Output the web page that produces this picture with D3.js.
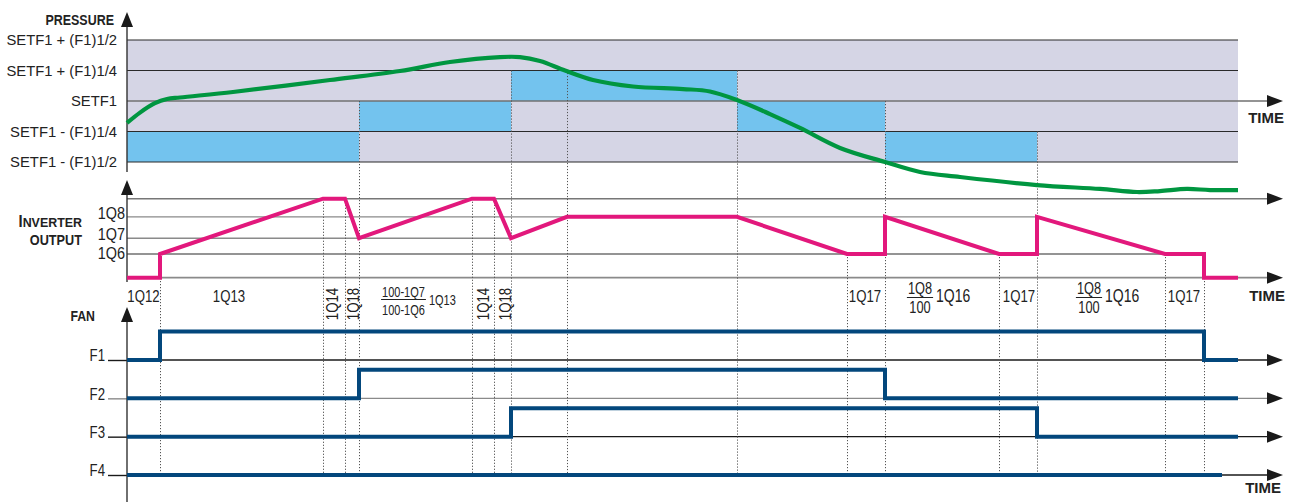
<!DOCTYPE html>
<html><head><meta charset="utf-8">
<script src="https://cdn.jsdelivr.net/npm/d3@7"></script>
<style>body{margin:0;background:#fff} svg{display:block}</style>
</head><body><svg id="c" width="1292" height="502"></svg>
<script>
// ---------------- DATA ----------------
const pressureLevels = [-0.5, -0.25, 0, 0.25, 0.5];
const pressureLabels = ["SETF1 - (F1)1/2", "SETF1 - (F1)1/4", "SETF1", "SETF1 + (F1)1/4", "SETF1 + (F1)1/2"];
const bandStart = [0, 232, 384, 610, 758];
const bandEnd   = [232, 384, 610, 758, 910];
const bandLow   = [-0.5, -0.25, 0, -0.25, -0.5];
const bandHigh  = [-0.25, 0, 0.25, 0, -0.25];
const pressureT = [0, 13, 28, 40, 53, 106, 203, 273, 323, 373, 393, 413, 438, 466, 506, 556, 583, 610, 643, 673, 713, 758, 793, 833, 910, 973, 1010, 1033, 1060, 1083, 1111];
const pressureV = [-0.18, -0.095, -0.018, 0.016, 0.029, 0.074, 0.172, 0.246, 0.32, 0.36, 0.36, 0.328, 0.25, 0.172, 0.119, 0.098, 0.078, 0.008, -0.107, -0.221, -0.385, -0.5, -0.582, -0.623, -0.689, -0.721, -0.746, -0.738, -0.721, -0.73, -0.73];

const inverterLevels = [30, 50, 77];
const inverterLabels = ["1Q6", "1Q7", "1Q8"];
const inverterT = [0, 33, 33, 196, 218, 232, 345, 367, 384, 440, 610, 720, 758, 758, 872, 910, 910, 1038, 1077, 1077, 1111];
const inverterV = [0, 0, 30, 100, 100, 50, 100, 100, 50, 77, 77, 30, 30, 77, 30, 30, 77, 30, 30, 0, 0];

const fanNames = ["F1", "F2", "F3", "F4"];
const fanOn  = [33, 232, 384, null];
const fanOff = [1077, 758, 910, null];
const fanEnd = [1111, 1111, 1111, 1095];

const markerT     = [33, 196, 218, 232, 345, 367, 384, 440, 610, 720, 758, 872, 910, 1038, 1077];
const markerPanel = ["inv","inv","inv","pres","inv","inv","pres","pres","pres","inv","pres","inv","pres","inv","inv"];
const markerV     = [30, 100, 100, 0, 100, 100, 0.25, 0.23, 0.25, 30, 0, 30, -0.25, 30, 30];

const annoText = ["1Q12", "1Q13", "1Q17", "1Q17", "1Q17"];
const annoT    = [16.5, 102, 738, 892, 1057];
const rotText  = ["1Q14", "1Q18", "1Q14", "1Q18"];
const rotT     = [205, 226, 356, 378];
const fracNum    = ["100-1Q7", "1Q8", "1Q8"];
const fracDen    = ["100-1Q6", "100", "100"];
const fracSuffix = ["1Q13", "1Q16", "1Q16"];
const fracT      = [276.5, 793, 962];

// ---------------- LAYOUT ----------------
const REG = "'Liberation Sans', Arial, sans-serif";
const NARROW = 0.8;
const C = {pink:"#e2187c", green:"#009640", blue:"#73c3ee", lav:"#d5d5e5", fan:"#03477c", ink:"#222"};
const svg = d3.select("#c");
const x = d3.scaleLinear().domain([0, 1111]).range([127, 1238]);
const yP = d3.scaleLinear().domain([-0.5, 0.5]).range([162, 40]);
const yI = d3.scaleLinear().domain([0, 100]).range([277.7, 198.7]);
const yF = d3.scalePoint().domain(fanNames).range([360, 475]);
const fanRise = 28.5;
const axX = 127, arrowEnd = 1283;

// condense text horizontally (narrow face look) with a scaleX transform
function narrow(sel, f) {
  f = f || NARROW;
  sel.each(function() {
    const s = d3.select(this);
    const xx = +(s.attr("x") || 0);
    const tr = s.attr("transform") || "";
    s.attr("x", xx / f).attr("transform", (tr + ` scale(${f},1)`).trim());
  });
  return sel;
}
function arrowRight(y) {
  svg.append("path").attr("d", `M${arrowEnd-16},${y-6}L${arrowEnd},${y}L${arrowEnd-16},${y+6}Z`).attr("fill", "#1a1a1a");
}
function arrowUp(xx, yTip) {
  svg.append("path").attr("d", `M${xx-6},${yTip+15}L${xx},${yTip}L${xx+6},${yTip+15}Z`).attr("fill", "#1a1a1a");
}

// ---------- PRESSURE PANEL ----------
svg.append("rect").attr("x", x(0)).attr("y", yP(0.5)).attr("width", x(1111)-x(0)).attr("height", yP(-0.5)-yP(0.5)).attr("fill", C.lav);
svg.selectAll(".band").data(bandStart).join("rect")
  .attr("x", (d,i)=>x(d)).attr("width", (d,i)=>x(bandEnd[i])-x(d))
  .attr("y", (d,i)=>yP(bandHigh[i])).attr("height", (d,i)=>yP(bandLow[i])-yP(bandHigh[i]))
  .attr("fill", C.blue);
pressureLevels.filter(v=>v!==0).forEach(v=>{
  svg.append("line").attr("x1", x(0)).attr("x2", x(1111)).attr("y1", yP(v)).attr("y2", yP(v)).attr("stroke", "#2a2a2a").attr("stroke-width", 1.2);
});
svg.append("line").attr("x1", x(0)).attr("x2", arrowEnd-14).attr("y1", yP(0)).attr("y2", yP(0)).attr("stroke", "#707070").attr("stroke-width", 1.6);
arrowRight(yP(0));

const pAxis = d3.axisLeft(yP).tickValues(pressureLevels).tickFormat((d,i)=>pressureLabels[i]).tickSize(0).tickPadding(10);
const pg = svg.append("g").attr("transform", `translate(${axX},0)`).call(pAxis);
pg.select(".domain").remove();
pg.selectAll("text").attr("font-family", REG).attr("font-size", 14.8).attr("fill", C.ink);

// ---------- INVERTER PANEL ----------
const invLines = [
  {v:100, end:arrowEnd-14, c:"#777", w:1.6},
  {v:77, end:x(910), c:"#8a8a8a", w:1.4},
  {v:50, end:x(384), c:"#8a8a8a", w:1.4},
  {v:30, end:x(1077), c:"#2a2a2a", w:1.2},
  {v:0, end:arrowEnd-14, c:"#8a8a8a", w:1.8}
];
invLines.forEach(l=>{
  svg.append("line").attr("x1", axX).attr("x2", l.end).attr("y1", yI(l.v)).attr("y2", yI(l.v)).attr("stroke", l.c).attr("stroke-width", l.w);
});
arrowRight(yI(100)); arrowRight(yI(0));
const invLabelDy = [4.3, 1.5, 2];   // baseline offsets below each level line (1Q6, 1Q7, 1Q8)
const iAxis = d3.axisLeft(yI).tickValues(inverterLevels).tickFormat((d,i)=>inverterLabels[i]).tickSize(0).tickPadding(2);
const ig = svg.append("g").attr("transform", `translate(${axX},0)`).call(iAxis);
ig.select(".domain").remove();
narrow(ig.selectAll("text").attr("font-family", REG).attr("font-size", 17).attr("fill", C.ink).attr("dy", (d,i)=>invLabelDy[i]), 0.85);

// ---------- FAN PANEL ----------
const fanLineColor = ["#1a1a1a", "#8a8a8a", "#1a1a1a", "#1a1a1a"];
fanNames.forEach((f,i)=>{
  svg.append("line").attr("x1", axX).attr("x2", arrowEnd-14).attr("y1", yF(f)).attr("y2", yF(f)).attr("stroke", fanLineColor[i]).attr("stroke-width", 1.4);
  arrowRight(yF(f));
});
const fAxis = d3.axisLeft(yF).tickSize(19).tickPadding(3);
const fg = svg.append("g").attr("transform", `translate(${axX},0)`).call(fAxis);
fg.select(".domain").remove();
fg.selectAll(".tick line").attr("stroke", (d,i)=>fanLineColor[i]).attr("stroke-width", 1.4);
narrow(fg.selectAll("text").attr("font-family", REG).attr("font-size", 16.5).attr("fill", C.ink).attr("dy", "0.05em"));

// ---------- DOTTED MARKERS ----------
svg.selectAll(".mk").data(markerT).join("line")
  .attr("x1", d=>x(d)+0.5).attr("x2", d=>x(d)+0.5)
  .attr("y1", (d,i)=> markerPanel[i]==="pres" ? yP(markerV[i]) : yI(markerV[i]))
  .attr("y2", 473)
  .attr("stroke", "#555").attr("stroke-width", 1).attr("stroke-dasharray", "1.2,1.8");

// ---------- VERTICAL AXES ----------
svg.append("line").attr("x1", axX).attr("x2", axX).attr("y1", 20).attr("y2", 172).attr("stroke", "#333").attr("stroke-width", 1.4);
arrowUp(axX, 12);
svg.append("line").attr("x1", axX).attr("x2", axX).attr("y1", 188).attr("y2", 282).attr("stroke", "#333").attr("stroke-width", 1.4);
arrowUp(axX, 180);
svg.append("line").attr("x1", axX).attr("x2", axX).attr("y1", 315).attr("y2", 502).attr("stroke", "#333").attr("stroke-width", 1.4);
arrowUp(axX, 307);

// ---------- SERIES ----------
const pLine = d3.line().x(d=>x(d[0])).y(d=>yP(d[1])).curve(d3.curveCatmullRom.alpha(0.5));
svg.append("path").datum(pressureT.map((t,i)=>[t, pressureV[i]])).attr("d", pLine)
  .attr("fill", "none").attr("stroke", C.green).attr("stroke-width", 4.2);

const iLine = d3.line().x(d=>x(d[0])).y(d=>yI(d[1]));
svg.append("path").datum(inverterT.map((t,i)=>[t, inverterV[i]])).attr("d", iLine)
  .attr("fill", "none").attr("stroke", C.pink).attr("stroke-width", 4).attr("stroke-linejoin", "miter");

fanNames.forEach((f,i)=>{
  const base = yF(f), on = base - fanRise;
  let pts;
  if (fanOn[i] === null) pts = [[0, base], [fanEnd[i], base]];
  else pts = [[0, base], [fanOn[i], base], [fanOn[i], on], [fanOff[i], on], [fanOff[i], base], [fanEnd[i], base]];
  svg.append("path").attr("d", d3.line().x(d=>x(d[0])).y(d=>d[1])(pts))
    .attr("fill", "none").attr("stroke", C.fan).attr("stroke-width", 4).attr("stroke-linejoin", "miter");
});

// ---------- TITLES ----------
function bold(txt, xx, yy, size, f, anchor) {
  const t = svg.append("text").attr("x", xx).attr("y", yy).attr("text-anchor", anchor || "end")
    .attr("font-family", REG).attr("font-weight", "bold").attr("font-size", size).attr("fill", C.ink).text(txt);
  return narrow(t, f);
}
bold("PRESSURE", 114, 25, 14, 0.89);
const inv = svg.append("text").attr("x", 82).attr("y", 227).attr("text-anchor", "end")
  .attr("font-family", REG).attr("font-weight", "bold").attr("fill", C.ink);
inv.append("tspan").attr("font-size", 16).text("I");
inv.append("tspan").attr("font-size", 13.5).text("NVERTER");
narrow(inv, 0.92);
bold("OUTPUT", 82, 245, 15.5, 0.82);
bold("FAN", 95, 321, 15, 0.82);
bold("TIME", 1284, 123, 15, 1);
bold("TIME", 1285, 301, 15, 1);
bold("TIME", 1281, 493, 15, 1);

// ---------- ANNOTATIONS ----------
const annoY = 302;
narrow(svg.selectAll(".an").data(annoText).join("text")
  .attr("x", (d,i)=>x(annoT[i])).attr("y", annoY).attr("text-anchor", "middle")
  .attr("font-family", REG).attr("font-size", 16.5).attr("fill", C.ink).text(d=>d));
narrow(svg.selectAll(".rt").data(rotText).join("text")
  .attr("transform", (d,i)=>`translate(${x(rotT[i])+6},304) rotate(-90)`)
  .attr("text-anchor", "middle")
  .attr("font-family", REG).attr("font-size", 16.5).attr("fill", C.ink).text(d=>d));
fracNum.forEach((n,i)=>{
  const cx = x(fracT[i]);
  const big = i === 0;
  const fs = big ? 15.5 : 16;
  const f = big ? 0.71 : 0.8;
  const g = svg.append("g");
  const tn = g.append("text").attr("x", cx).attr("y", big ? 297 : 294).attr("text-anchor", "middle")
    .attr("font-family", REG).attr("font-size", fs).attr("fill", C.ink).text(n);
  const w = tn.node().getComputedTextLength() * f;
  narrow(tn, f);
  narrow(g.append("text").attr("x", cx).attr("y", big ? 315.5 : 313).attr("text-anchor", "middle")
    .attr("font-family", REG).attr("font-size", fs).attr("fill", C.ink).text(fracDen[i]), f);
  g.append("line").attr("x1", cx - w/2 - 1).attr("x2", cx + w/2 + 1).attr("y1", big ? 299.5 : 297.5).attr("y2", big ? 299.5 : 297.5)
    .attr("stroke", C.ink).attr("stroke-width", 1);
  narrow(g.append("text").attr("x", cx + w/2 + 4).attr("y", big ? 305 : 302)
    .attr("font-family", REG).attr("font-size", big ? 15.5 : 17.5).attr("fill", C.ink).text(fracSuffix[i]), big ? 0.71 : 0.8);
});
</script></body></html>
